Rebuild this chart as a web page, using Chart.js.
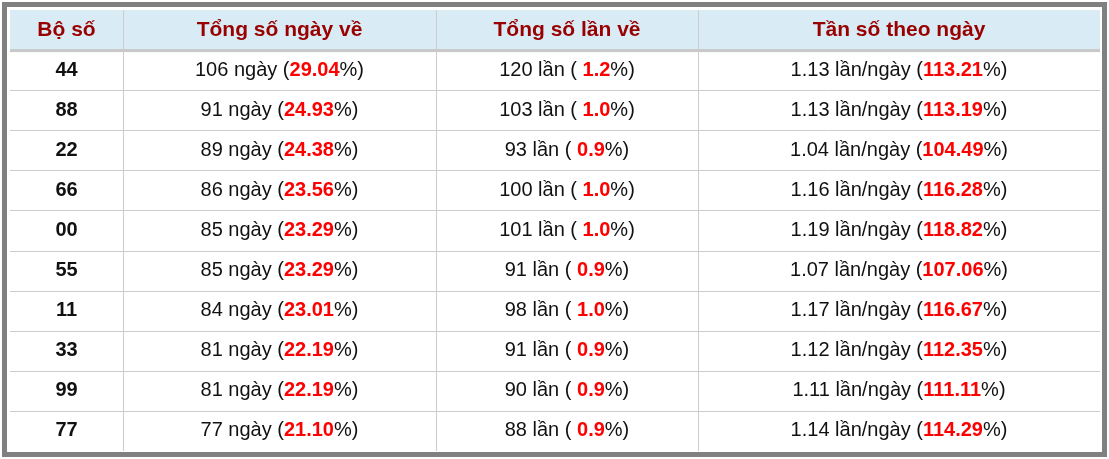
<!DOCTYPE html>
<html><head><meta charset="utf-8">
<script src="https://cdn.jsdelivr.net/npm/chart.js@4"></script>
<style>body{margin:0;background:#fff}#wrap{width:1109px;height:459px}</style>
</head><body><div id="wrap"><canvas id="tbl"></canvas></div>
<script>
const headers = ['Bộ số', 'Tổng số ngày về', 'Tổng số lần về', 'Tần số theo ngày'];
const boSo = ['44', '88', '22', '66', '00', '55', '11', '33', '99', '77'];
const soNgay = [106, 91, 89, 86, 85, 85, 84, 81, 81, 77];
const pctNgay = ['29.04', '24.93', '24.38', '23.56', '23.29', '23.29', '23.01', '22.19', '22.19', '21.10'];
const soLan = [120, 103, 93, 100, 101, 91, 98, 91, 90, 88];
const pctLan = ['1.2', '1.0', '0.9', '1.0', '1.0', '0.9', '1.0', '0.9', '0.9', '0.9'];
const tanSo = ['1.13', '1.13', '1.04', '1.16', '1.19', '1.07', '1.17', '1.12', '1.11', '1.14'];
const pctTanSo = ['113.21', '113.19', '104.49', '116.28', '118.82', '107.06', '116.67', '112.35', '111.11', '114.29'];

// column edges in table units
const colEdges = [0, 113, 426, 688, 1090];

const normal = '20px "Liberation Sans", Arial';
const bold = 'bold 20px "Liberation Sans", Arial';
const headFont = 'bold 21px "Liberation Sans", Arial';

// mixed-colour text centred at x
function drawParts(ctx, parts, x, y) {
  let w = 0;
  parts.forEach(p => { ctx.font = p[2] || normal; w += ctx.measureText(p[0]).width; });
  let cx = x - w / 2;
  parts.forEach(p => {
    ctx.font = p[2] || normal;
    ctx.fillStyle = p[1];
    ctx.fillText(p[0], cx, y);
    cx += ctx.measureText(p[0]).width;
  });
}

const tablePlugin = {
  id: 'tablePlugin',
  beforeDraw(chart) {
    const ctx = chart.ctx;
    const xs = chart.scales.x, ys = chart.scales.y;
    const L = xs.getPixelForValue(0), R = xs.getPixelForValue(colEdges[4]);
    const yAt = v => ys.getPixelForValue(v);
    ctx.save();
    ctx.fillStyle = '#fff';
    ctx.fillRect(0, 0, chart.width, chart.height);
    // outer frame
    ctx.strokeStyle = '#808080';
    ctx.lineWidth = 5;
    ctx.strokeRect(4.5, 4.5, chart.width - 9, chart.height - 9);
    // header
    ctx.fillStyle = '#d9ecf5';
    ctx.fillRect(L, yAt(0), R - L, yAt(1) - yAt(0));
    // horizontal lines
    ctx.strokeStyle = '#cccccc';
    ctx.lineWidth = 1;
    for (let r = 2; r <= boSo.length; r++) {
      ctx.beginPath(); ctx.moveTo(L, Math.round(yAt(r)) + 0.5); ctx.lineTo(R, Math.round(yAt(r)) + 0.5); ctx.stroke();
    }
    ctx.fillStyle = '#c8c8c8';
    ctx.fillRect(L, yAt(1) - 1, R - L, 3);
    // vertical lines
    for (let c = 1; c < colEdges.length - 1; c++) {
      const x = Math.round(xs.getPixelForValue(colEdges[c])) + 0.5;
      ctx.beginPath(); ctx.moveTo(x, yAt(0)); ctx.lineTo(x, yAt(boSo.length + 1)); ctx.stroke();
    }
    ctx.textBaseline = 'middle';
    const mid = c => xs.getPixelForValue((colEdges[c] + colEdges[c + 1]) / 2);
    const red = '#ff0000', blk = '#111111';
    headers.forEach((h, c) => drawParts(ctx, [[h, '#990000', headFont]], mid(c), yAt(0.5)));
    boSo.forEach((b, i) => {
      const y = yAt(i + 1.5);
      drawParts(ctx, [[b, blk, bold]], mid(0), y);
      drawParts(ctx, [[soNgay[i] + ' ngày (', blk], [pctNgay[i], red, bold], ['%)', blk]], mid(1), y);
      drawParts(ctx, [[soLan[i] + ' lần ( ', blk], [pctLan[i], red, bold], ['%)', blk]], mid(2), y);
      drawParts(ctx, [[tanSo[i] + ' lần/ngày (', blk], [pctTanSo[i], red, bold], ['%)', blk]], mid(3), y);
    });
    ctx.restore();
  }
};

new Chart(document.getElementById('tbl'), {
  type: 'scatter',
  data: { datasets: [{ data: [] }] },
  options: {
    responsive: true,
    maintainAspectRatio: false,
    animation: false,
    layout: { padding: { left: 10, right: 9, top: 10, bottom: 8 } },
    plugins: { legend: { display: false }, tooltip: { enabled: false } },
    scales: {
      x: { type: 'linear', min: 0, max: colEdges[4], display: false },
      y: { type: 'linear', min: 0, max: boSo.length + 1, reverse: true, display: false }
    }
  },
  plugins: [tablePlugin]
});
</script></body></html>
